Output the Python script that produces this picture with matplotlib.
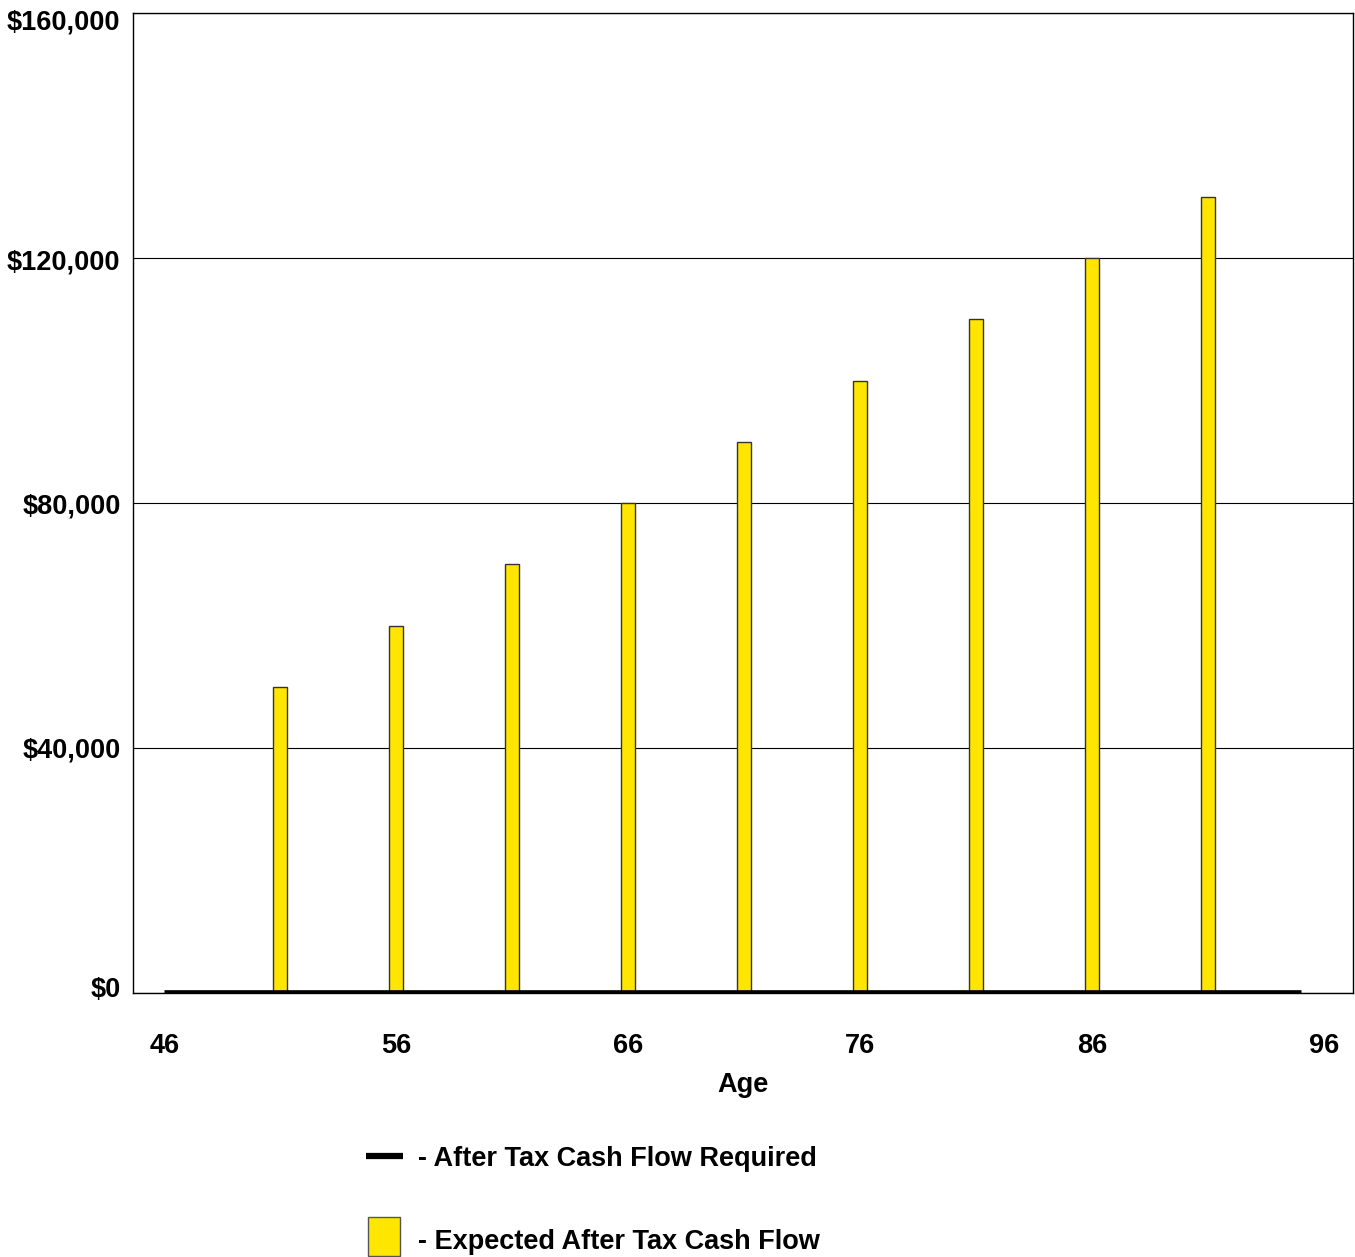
import numpy as np
import matplotlib.pyplot as plt
import matplotlib.transforms as mtransforms
from matplotlib.patches import Rectangle
from matplotlib.lines import Line2D
from matplotlib.ticker import FuncFormatter

plt.rcParams['font.family'] = ['Liberation Sans', 'DejaVu Sans']
plt.rcParams['font.weight'] = 'bold'

# expected after tax cash flow, every 5 years
bar_ages = [51, 56, 61, 66, 71, 76, 81, 86, 91]
bar_values = [50000, 60000, 70000, 80000, 90000, 100000, 110000, 120000, 130000]

# required after tax cash flow, yearly
req_ages = list(range(46, 96))
req_values = [0] * len(req_ages)

x_ticks = [46, 56, 66, 76, 86, 96]
y_ticks = [0, 40000, 80000, 120000, 160000]

yellow = '#FFE600'
fs = 19.5

fig = plt.figure(figsize=(13.55, 12.57), dpi=100)
ax = fig.add_axes([133 / 1355, 264 / 1257, 1220 / 1355, 980 / 1257])

ax.bar(bar_ages, bar_values, width=0.62, color=yellow, edgecolor='#333333',
       linewidth=1.0, zorder=3)
ax.plot(req_ages, req_values, color='black', linewidth=4.8,
        solid_capstyle='butt', zorder=4)

ax.set_xlim(44.65, 97.25)
ax.set_ylim(0, 160000)
ax.set_xticks(x_ticks)
ax.set_yticks(y_ticks)
ax.yaxis.set_major_formatter(FuncFormatter(lambda v, p: '${:,.0f}'.format(v)))
ax.tick_params(axis='both', length=0, labelsize=fs)
ax.tick_params(axis='x', pad=29)
ax.tick_params(axis='y', pad=9)
for lbl in ax.get_xticklabels() + ax.get_yticklabels():
    lbl.set_fontweight('bold')

# keep the end labels inside the frame height
nudges = [6, 0, 0, -2, -6]
for lbl, dy in zip(ax.get_yticklabels(), nudges):
    off = mtransforms.ScaledTranslation(0, dy / 100, fig.dpi_scale_trans)
    lbl.set_transform(lbl.get_transform() + off)

ax.grid(axis='y', color='black', linewidth=0.8, zorder=1)
for s in ax.spines.values():
    s.set_linewidth(1.0)
    s.set_color('black')

ax.set_xlabel('Age', fontsize=fs, fontweight='bold', labelpad=9)

# legend drawn by hand below the axes
fig.add_artist(Line2D([366 / 1355, 403 / 1355], [1 - 1156 / 1257, 1 - 1156 / 1257],
                      color='black', linewidth=4.5, solid_capstyle='butt'))
fig.text(418 / 1355, 1 - 1159 / 1257, '- After Tax Cash Flow Required',
         fontsize=fs, fontweight='bold', va='center', ha='left')
fig.add_artist(Rectangle((368 / 1355, 1 - 1256 / 1257), 32 / 1355, 39 / 1257,
                         facecolor=yellow, edgecolor='#555555', linewidth=1.0,
                         transform=fig.transFigure))
fig.text(418 / 1355, 1 - 1242 / 1257, '- Expected After Tax Cash Flow',
         fontsize=fs, fontweight='bold', va='center', ha='left')

fig.savefig('out.png', dpi=100)
